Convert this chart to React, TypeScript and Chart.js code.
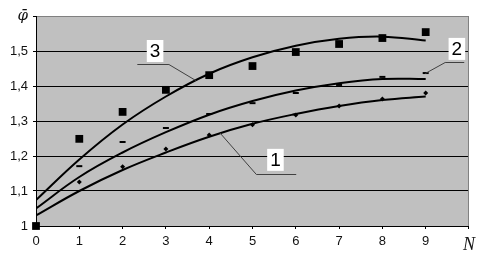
import React, { useEffect, useRef } from 'react';
import { Chart, registerables } from 'chart.js';
Chart.register(...registerables);

// Categories (N)
const nValues = [0, 1, 2, 3, 4, 5, 6, 7, 8, 9];

// Measured points
const points3 = [1.0, 1.249, 1.326, 1.389, 1.431, 1.457, 1.497, 1.52, 1.537, 1.554];
const points2 = [1.0, 1.171, 1.24, 1.28, 1.32, 1.351, 1.38, 1.403, 1.426, 1.437];
const points1 = [1.0, 1.126, 1.169, 1.22, 1.26, 1.289, 1.317, 1.343, 1.363, 1.38];

// Trend curves
const curve3 = [1.074, 1.19, 1.29, 1.37, 1.435, 1.482, 1.515, 1.535, 1.541, 1.53];
const curve2 = [1.05, 1.14, 1.21, 1.268, 1.318, 1.357, 1.387, 1.408, 1.42, 1.42];
const curve1 = [1.03, 1.1, 1.16, 1.21, 1.255, 1.292, 1.32, 1.343, 1.36, 1.37];

// Tick labels
const yTickValues = [1, 1.1, 1.2, 1.3, 1.4, 1.5, 1.6];
const yTickLabels = ['1', '1,1', '1,2', '1,3', '1,4', '1,5', 'φ̄'];
const xTickValues = [0, 1, 2, 3, 4, 5, 6, 7, 8, 9, 10];
const xTickLabels = ['0', '1', '2', '3', '4', '5', '6', '7', '8', '9', 'N'];

// Curve labels (data coordinates): text, box centre, leader polyline
const labelTexts = ['3', '2', '1'];
const labelX = [2.75, 9.72, 5.53];
const labelY = [1.5, 1.506, 1.189];
const leaderX = [[2.34, 3.07, 3.69], [9.89, 9.45, 8.99], [6.01, 5.09, 4.24]];
const leaderY = [[1.463, 1.463, 1.417], [1.469, 1.469, 1.437], [1.149, 1.149, 1.269]];

const toXY = (ys: number[]) => nValues.map((x, i) => ({ x, y: ys[i] }));

const decorPlugin = {
  id: 'decor',
  beforeDraw(chart: any) {
    const { ctx, chartArea: a } = chart;
    ctx.save();
    ctx.fillStyle = '#ffffff';
    ctx.fillRect(0, 0, chart.width, chart.height);
    ctx.fillStyle = '#c0c0c0';
    ctx.fillRect(a.left, a.top, a.right - a.left, a.bottom - a.top);
    ctx.restore();
  },
  afterDatasetsDraw(chart: any) {
    const { ctx, chartArea: a, scales } = chart;
    const xs = scales.x, ys = scales.y;
    ctx.save();
    // right border
    ctx.strokeStyle = '#808080';
    ctx.lineWidth = 1;
    ctx.beginPath();
    ctx.moveTo(a.right - 0.5, a.top);
    ctx.lineTo(a.right - 0.5, a.bottom);
    ctx.stroke();
    // leaders
    ctx.strokeStyle = '#404040';
    ctx.lineWidth = 1;
    for (let i = 0; i < labelTexts.length; i++) {
      ctx.beginPath();
      leaderX[i].forEach((lx, j) => {
        const px = xs.getPixelForValue(lx);
        const py = Math.round(ys.getPixelForValue(leaderY[i][j])) + 0.5;
        if (j === 0) ctx.moveTo(px, py); else ctx.lineTo(px, py);
      });
      ctx.stroke();
    }
    // label boxes
    ctx.font = '19px "Liberation Sans", Arial, sans-serif';
    ctx.textAlign = 'center';
    ctx.textBaseline = 'middle';
    for (let i = 0; i < labelTexts.length; i++) {
      const cx = xs.getPixelForValue(labelX[i]);
      const cy = ys.getPixelForValue(labelY[i]);
      const w = ctx.measureText(labelTexts[i]).width + 6;
      ctx.fillStyle = '#ffffff';
      ctx.fillRect(cx - w / 2, cy - 11, w, 22);
      ctx.fillStyle = '#000000';
      ctx.fillText(labelTexts[i], cx, cy + 1);
    }
    ctx.restore();
  },
};

export default function App() {
  const ref = useRef<HTMLCanvasElement | null>(null);
  useEffect(() => {
    document.body.style.margin = '0';
    if (!ref.current) return;
    const curveStyle = {
      showLine: true,
      borderColor: '#000',
      borderWidth: 2,
      pointRadius: 0,
      tension: 0.4,
      fill: false,
    };
    const chart = new Chart(ref.current, {
      type: 'scatter',
      data: {
        datasets: [
          { ...curveStyle, data: toXY(curve3) },
          { ...curveStyle, data: toXY(curve2) },
          { ...curveStyle, data: toXY(curve1) },
          {
            data: toXY(points3),
            pointStyle: 'rect',
            pointRadius: 5.5,
            backgroundColor: '#000',
            borderColor: '#000',
            borderWidth: 0,
            clip: false,
          },
          {
            data: toXY(points2),
            pointStyle: 'line',
            pointRadius: 3,
            backgroundColor: '#000',
            borderColor: '#000',
            borderWidth: 2,
            clip: false,
          },
          {
            data: toXY(points1),
            pointStyle: 'rectRot',
            pointRadius: 2.5,
            backgroundColor: '#000',
            borderColor: '#000',
            borderWidth: 0,
            clip: false,
          },
        ] as any,
      },
      options: {
        animation: false,
        responsive: false,
        events: [],
        layout: { padding: { top: 16, right: 8, left: 0, bottom: 0 } },
        plugins: { legend: { display: false }, tooltip: { enabled: false } },
        scales: {
          x: {
            type: 'linear',
            min: 0,
            max: 10,
            afterFit: (s: any) => { s.height = 30; },
            afterBuildTicks: (s: any) => { s.ticks = xTickValues.map((v) => ({ value: v })); },
            ticks: {
              stepSize: 1,
              padding: 5,
              color: '#111',
              maxRotation: 0,
              callback: (v: any) => {
                const i = xTickValues.findIndex((t) => Math.abs(t - v) < 1e-6);
                return i >= 0 ? xTickLabels[i] : '';
              },
              font: (c: any) =>
                c.tick && c.tick.value === 10
                  ? { family: '"Liberation Serif", serif', size: 18, style: 'italic' }
                  : { family: '"Liberation Sans", Arial, sans-serif', size: 13 },
            },
            grid: { drawOnChartArea: false, tickLength: 3, tickColor: '#000' },
            border: { color: '#000', width: 1 },
          },
          y: {
            type: 'linear',
            min: 1,
            max: 1.6,
            afterFit: (s: any) => { s.width = 36; },
            afterBuildTicks: (s: any) => { s.ticks = yTickValues.map((v) => ({ value: v })); },
            ticks: {
              padding: 5,
              color: '#111',
              callback: (v: any) => {
                const i = yTickValues.findIndex((t) => Math.abs(t - v) < 1e-6);
                return i >= 0 ? yTickLabels[i] : '';
              },
              font: (c: any) =>
                c.tick && c.tick.value > 1.55
                  ? { family: '"DejaVu Serif", serif', size: 15, style: 'italic' }
                  : { family: '"Liberation Sans", Arial, sans-serif', size: 13 },
            },
            grid: {
              color: (c: any) => (c.tick && c.tick.value > 1.55 ? '#808080' : '#000'),
              lineWidth: 1,
              tickLength: 3,
              tickColor: '#000',
            },
            border: { color: '#000', width: 1 },
          },
        },
      } as any,
      plugins: [decorPlugin],
    });
    return () => chart.destroy();
  }, []);
  return (
    <div style={{ position: 'fixed', left: 0, top: 0, width: 480, height: 256 }}>
      <canvas ref={ref} width={480} height={256} />
    </div>
  );
}
